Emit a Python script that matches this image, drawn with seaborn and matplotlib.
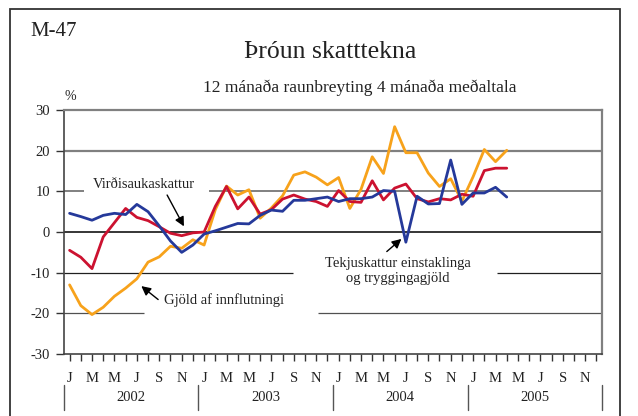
import matplotlib
matplotlib.use('Agg')
import matplotlib.pyplot as plt
import matplotlib.transforms as mtransforms
from matplotlib.patches import Rectangle
import seaborn as sns
import pandas as pd
import numpy as np

# monthly values, Jan 2002 - Apr 2005 (% change, 4 month average)
years = ['2002', '2003', '2004', '2005']
month_letters = ['J', '', 'M', '', 'M', '', 'J', '', 'S', '', 'N', '']

vsk = [-4.5, -6.2, -9.0, -1.2, 2.3, 5.8, 3.6, 2.8, 1.3, -0.3, -0.9, -0.2,
       0.0, 6.3, 11.2, 5.7, 8.6, 4.4, 5.5, 8.1, 9.1, 8.1, 7.5, 6.3,
       10.2, 7.5, 7.3, 12.6, 7.9, 10.8, 11.8, 8.2, 7.4, 8.2, 7.9, 9.3,
       8.8, 15.1, 15.7, 15.7]
tekjusk = [4.6, 3.8, 2.9, 4.1, 4.6, 4.3, 6.8, 5.0, 1.5, -2.2, -5.0, -3.2,
           -0.5, 0.3, 1.2, 2.1, 2.0, 4.1, 5.4, 5.1, 7.8, 7.8, 8.2, 8.6,
           7.5, 8.2, 8.2, 8.6, 10.2, 10.0, -2.5, 8.8, 6.9, 7.0, 17.7, 6.8,
           9.6, 9.6, 11.0, 8.6]
gjold = [-13.0, -18.1, -20.3, -18.5, -15.8, -13.8, -11.5, -7.4, -6.1, -3.5, -4.0, -1.9,
         -3.2, 5.5, 11.3, 9.1, 10.4, 3.4, 5.9, 8.9, 14.0, 14.8, 13.5, 11.6,
         13.4, 5.8, 10.5, 18.5, 14.4, 25.9, 19.5, 19.5, 14.5, 11.2, 13.1, 7.6,
         13.6, 20.3, 17.3, 20.1]

series = {'Gjöld af innflutningi': gjold,
          'Virðisaukaskattur': vsk,
          'Tekjuskattur': tekjusk}
colors = {'Gjöld af innflutningi': '#f7a21b',
          'Virðisaukaskattur': '#cc1230',
          'Tekjuskattur': '#25399a'}

df = pd.DataFrame(series)
df['manudur'] = np.arange(len(df))
df = df.melt(id_vars='manudur', var_name='flokkur', value_name='breyting')

sns.set_style('white')
plt.rcParams['font.family'] = ['Liberation Serif', 'DejaVu Serif']
plt.rcParams['axes.unicode_minus'] = False

fig = plt.figure(figsize=(6.38, 4.16), dpi=100)
ax = fig.add_axes([0.1003, 0.149, 0.8433, 0.5865])

n_months = 12 * len(years)

# gridlines, with gaps where labels sit
ax.hlines(20, -0.5, n_months - 0.5, color='#808080', lw=1.6, zorder=1)
ax.hlines(10, -0.5, 1.25, color='#808080', lw=1.4, zorder=1)
ax.hlines(10, 12.4, n_months - 0.5, color='#808080', lw=1.4, zorder=1)
ax.hlines(0, -0.5, n_months - 0.5, color='black', lw=1.1, zorder=1)
ax.hlines(-10, -0.5, 19.9, color='#202020', lw=0.9, zorder=1)
ax.hlines(-10, 38.1, n_months - 0.5, color='#202020', lw=0.9, zorder=1)
ax.hlines(-20, -0.5, 6.6, color='#505050', lw=0.9, zorder=1)
ax.hlines(-20, 22.2, n_months - 0.5, color='#505050', lw=0.9, zorder=1)

sns.lineplot(data=df, x='manudur', y='breyting', hue='flokkur',
             palette=colors, linewidth=2.0, legend=False, ax=ax, zorder=2)

ax.set_xlim(-0.5, n_months - 0.5)
ax.set_ylim(-30, 30)
ax.set_yticks(range(-30, 31, 10))
ax.set_xticks(range(n_months))
ax.set_xticklabels(month_letters * len(years))
ax.set_xlabel('')
ax.set_ylabel('')
ax.tick_params(axis='both', direction='out', length=5, width=1, color='#333333',
               labelsize=10.5, labelcolor='#222222', bottom=True, left=True)
ax.tick_params(axis='x', pad=8, length=5)
ax.tick_params(axis='y', pad=4, length=6)

for side in ['left', 'bottom']:
    ax.spines[side].set_color('#444444')
    ax.spines[side].set_linewidth(1.2)
for side in ['top', 'right']:
    ax.spines[side].set_color('#808080')
    ax.spines[side].set_linewidth(1.6)

# year labels and separators below the axis
trans = mtransforms.blended_transform_factory(ax.transData, ax.transAxes)
for k, yr in enumerate(years):
    ax.text(12 * k + 5.5, -0.18, yr, transform=trans, ha='center', va='center',
            fontsize=10.5, color='#222222')
for k in range(len(years) + 1):
    ax.plot([12 * k - 0.5, 12 * k - 0.5], [-0.127, -0.23], transform=trans,
            color='#555555', lw=1.0, clip_on=False)

# labels and arrows
arrow = dict(arrowstyle='-|>,head_length=0.55,head_width=0.28', color='black', lw=1.0,
             shrinkA=0, shrinkB=0)
ax.text(6.6, 11.6, 'Virðisaukaskattur', ha='center', va='center', fontsize=10.5,
        color='#222222')
ax.annotate('', xy=(10.2, 1.4), xytext=(8.7, 9.1), arrowprops=arrow)

ax.text(29.3, -9.6, 'Tekjuskattur einstaklinga\nog tryggingagjöld', ha='center',
        va='center', fontsize=10.5, color='#222222', linespacing=1.25)
ax.annotate('', xy=(29.6, -1.7), xytext=(28.3, -4.8), arrowprops=arrow)

ax.text(8.4, -16.7, 'Gjöld af innflutningi', ha='left', va='center', fontsize=10.5,
        color='#222222')
ax.annotate('', xy=(6.4, -13.3), xytext=(7.9, -16.6), arrowprops=arrow)

# header text
fig.text(0.047, 0.925, 'M-47', ha='left', va='center', fontsize=15, color='#222222')
fig.text(0.517, 0.875, 'Þróun skatttekna', ha='center', va='center', fontsize=18.5,
         color='#222222')
fig.text(0.564, 0.788, '12 mánaða raunbreyting 4 mánaða meðaltala', ha='center',
         va='center', fontsize=12.5, color='#222222')
fig.text(0.11, 0.767, '%', ha='center', va='center', fontsize=10, color='#222222')

# outer frame
fig.patches.append(Rectangle((0.0157, -0.05), 0.956, 1.028, transform=fig.transFigure,
                             fill=False, edgecolor='#333333', lw=1.3))

fig.savefig('out.png', dpi=100)
